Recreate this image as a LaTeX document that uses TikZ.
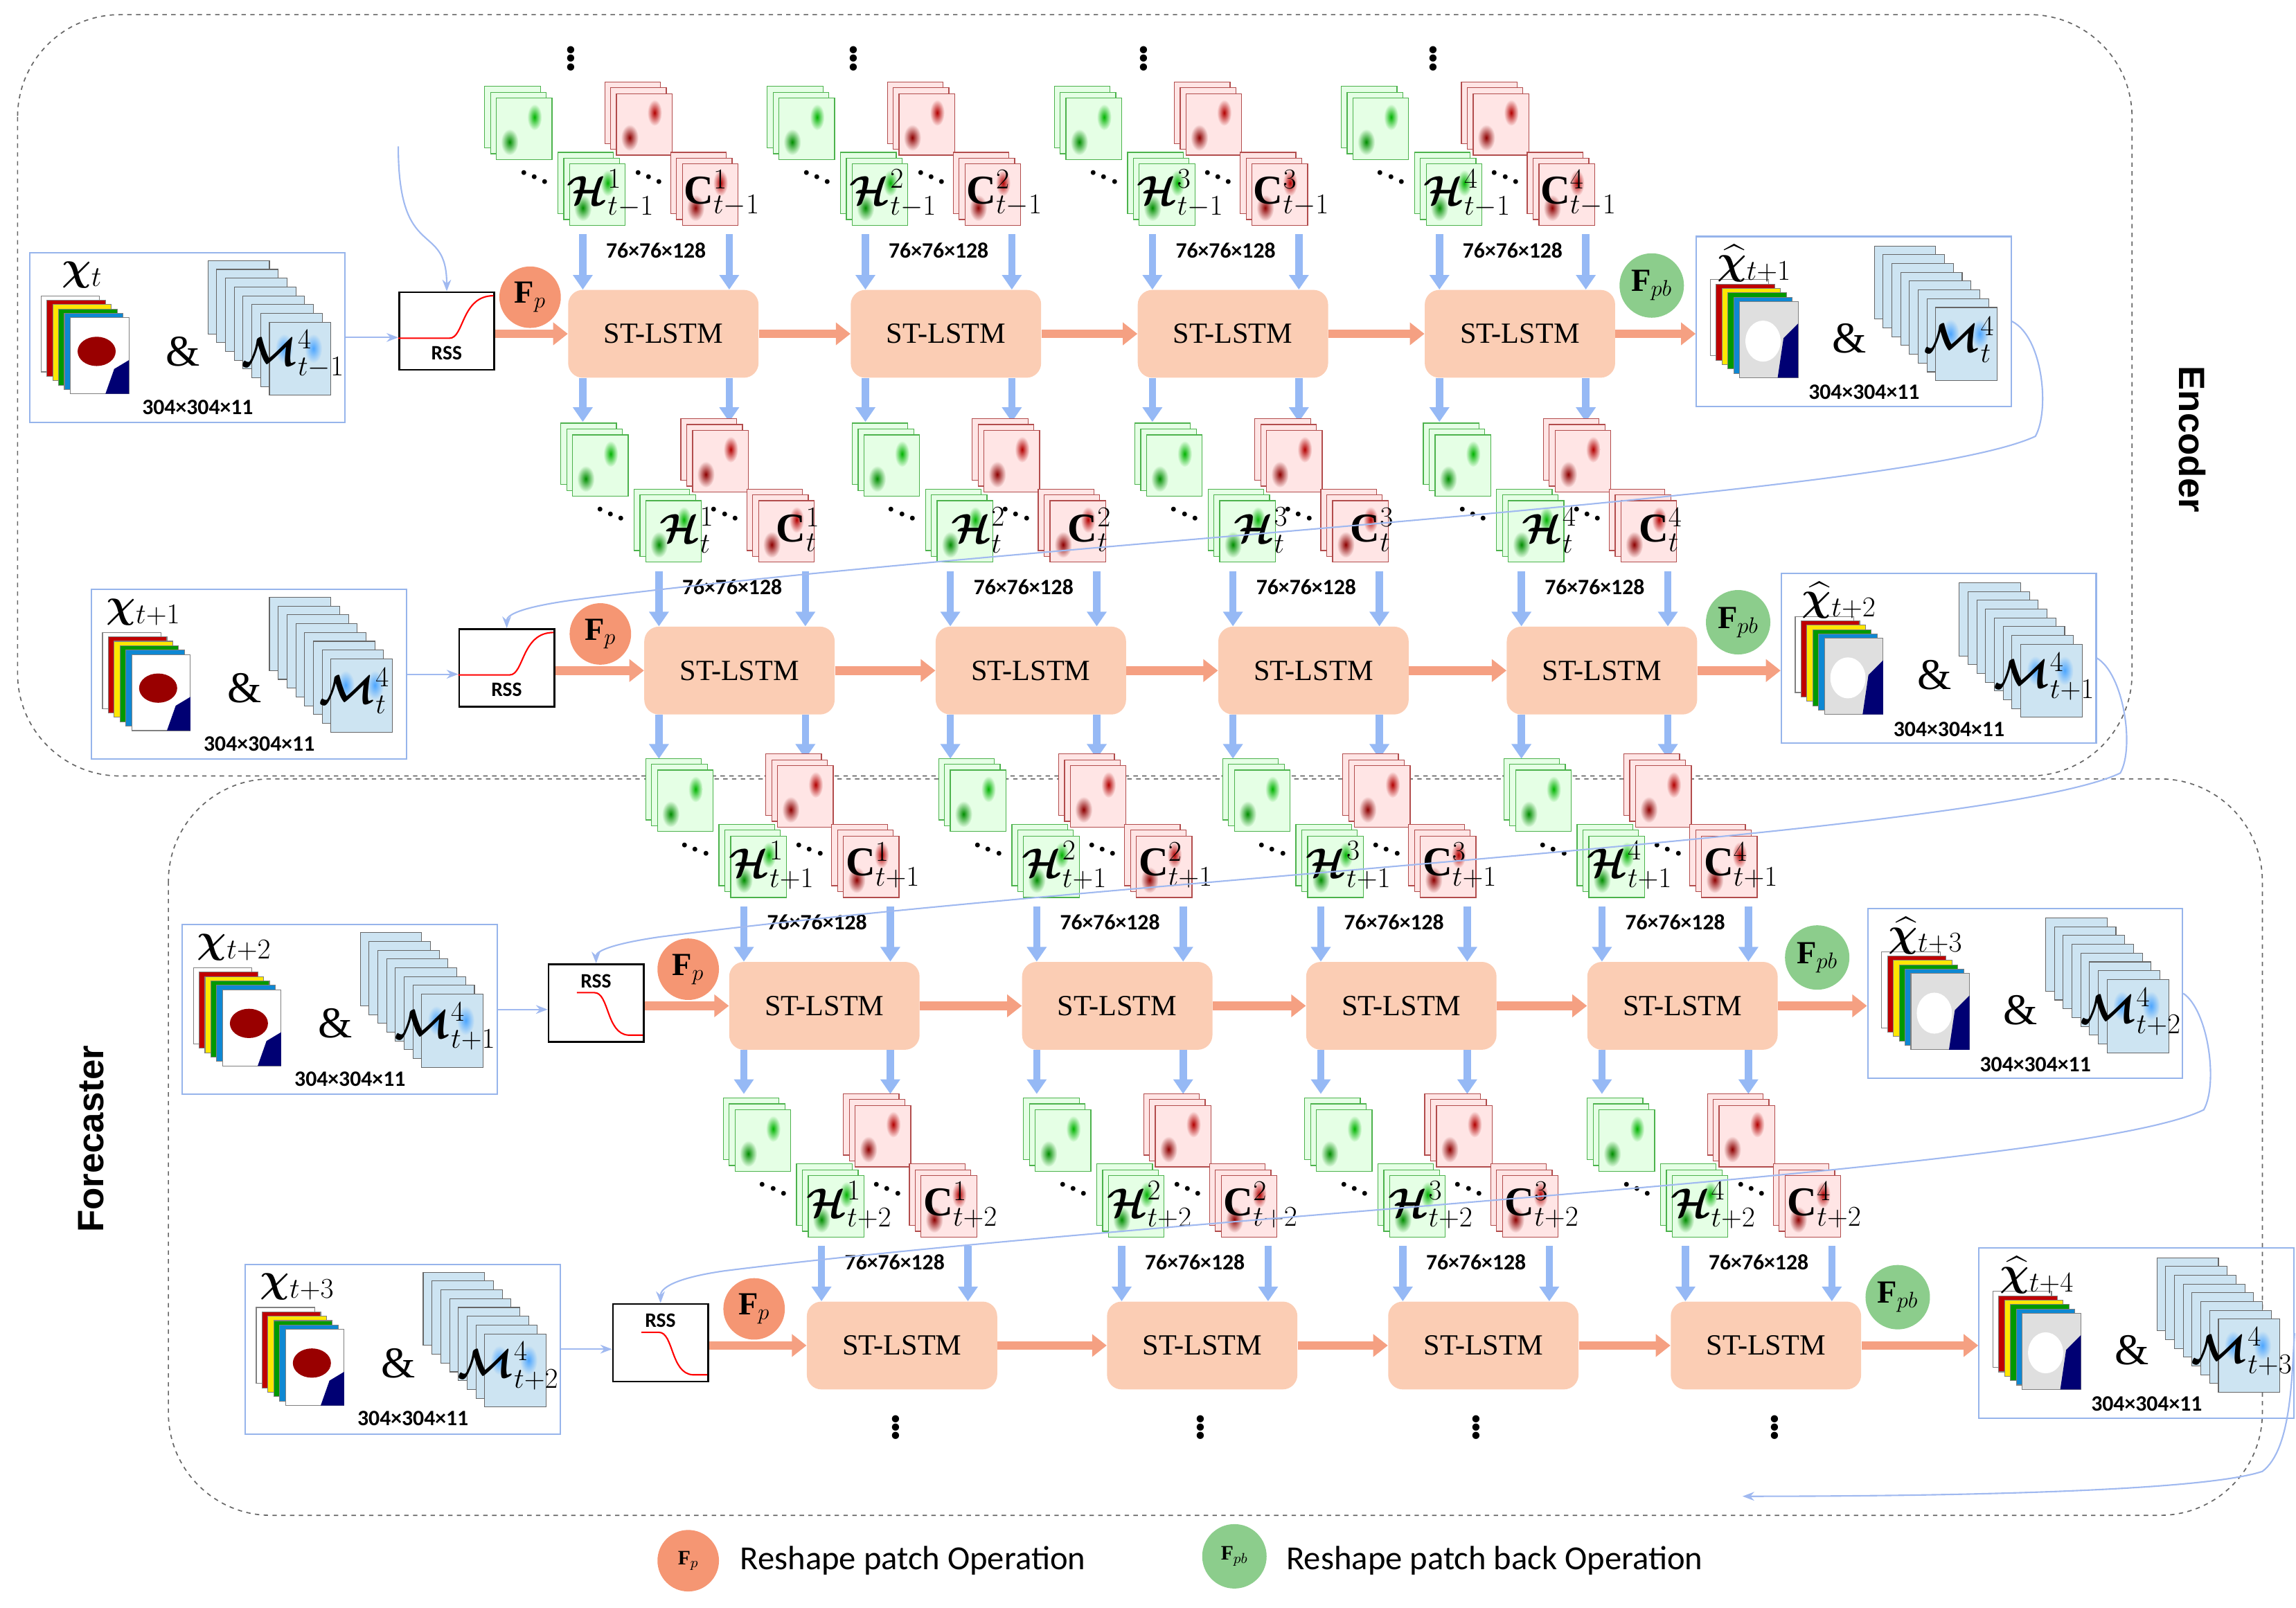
\RequirePackage{fix-cm}
\documentclass[tikz,border=0pt]{standalone}
\usepackage{amsmath,bm}
\usepackage{fontspec}
\setmainfont{Liberation Serif}
\newfontfamily\calibri{Carlito}
\newfontfamily\arialf{Liberation Sans}
\usetikzlibrary{arrows.meta,shapes.geometric}
\definecolor{lstmc}{RGB}{251,205,180}
\definecolor{barc}{RGB}{150,185,245}
\definecolor{oac}{RGB}{245,160,130}
\definecolor{fbc}{RGB}{160,185,240}
\definecolor{boxc}{RGB}{150,180,235}
\definecolor{fpc}{RGB}{245,150,115}
\definecolor{fpbc}{RGB}{140,205,140}
\definecolor{mc}{RGB}{205,228,242}
\tikzset{
 lstm/.style={fill=lstmc, rounded corners=10pt, minimum width=130pt, minimum height=60pt, font=\fontsize{20}{24}\selectfont},
 barr/.style={draw=barc, line width=5pt, -{Triangle[width=13pt,length=10pt]}},
 oarr/.style={draw=oac, line width=6pt, -{Triangle[width=15pt,length=10pt]}},
 fb/.style={draw=fbc, line width=1pt, -{Stealth[length=8pt]}},
 dim/.style={font=\calibri\bfseries\fontsize{15}{17}\selectfont},
 lab/.style={font=\fontsize{28}{30}\selectfont, inner sep=0pt},
 dots/.style={font=\bfseries\fontsize{30}{32}\selectfont},
 ddots/.style={font=\bfseries\fontsize{20}{22}\selectfont, inner sep=0pt},
 fp/.style={circle, fill=fpc, minimum size=42pt, inner sep=0pt, font=\fontsize{22}{24}\selectfont},
 fpb/.style={circle, fill=fpbc, minimum size=44pt, inner sep=0pt, font=\fontsize{22}{24}\selectfont},
 iobox/.style={draw=boxc, line width=1pt, minimum width=215pt, minimum height=116pt, anchor=north west, inner sep=0pt},
 rss/.style={draw=black, line width=1.2pt, minimum width=65pt, minimum height=53pt, anchor=north west, inner sep=0pt},
}
\newcommand{\stk}[3]{%
 \foreach \k in {2,1,0}{\filldraw[fill=#3!10, draw=#3!40!gray, line width=0.6pt] ({#1-19-4*\k},{#2-21-4*\k}) rectangle ++(38,42);}
 \shade[inner color=#3!70!black, outer color=#3!10] ({#1+7},{#2-8}) ellipse (5 and 9);
 \shade[inner color=#3!55!black, outer color=#3!10] ({#1-10},{#2+9}) ellipse (6 and 9);
}
\newcommand{\mapstk}[3]{%
 \foreach \k/\col in {0/white,1/red!75!black,2/yellow!90!orange,3/green!60!black,4/cyan!70!blue}{\filldraw[fill=\col, draw=gray, line width=0.5pt] ({#1+4*\k},{#2+3*\k}) rectangle ++(40,52);}
 \ifnum#3=0
  \filldraw[fill=white, draw=gray, line width=0.5pt] ({#1+20},{#2+15}) rectangle ++(40,52);
  \fill[red!60!black] ({#1+38},{#2+38}) ellipse (13 and 10);
  \fill[blue!45!black] ({#1+50},{#2+50}) -- ({#1+60},{#2+44}) -- ({#1+60},{#2+67}) -- ({#1+44},{#2+67}) -- cycle;
 \else
  \filldraw[fill=gray!25, draw=gray, line width=0.5pt] ({#1+20},{#2+15}) rectangle ++(40,52);
  \fill[white] ({#1+36},{#2+42}) ellipse (12 and 14);
  \fill[blue!45!black] ({#1+50},{#2+40}) -- ({#1+60},{#2+30}) -- ({#1+60},{#2+67}) -- ({#1+46},{#2+67}) -- cycle;
 \fi
}
\newcommand{\mstk}[2]{%
 \foreach \k in {0,...,7}{\filldraw[fill=mc, draw=gray!80!black, line width=0.5pt] ({#1+6*\k},{#2+6*\k}) rectangle ++(42,50);}
 \shade[inner color=cyan!50!blue!70, outer color=mc] ({#1+52},{#2+60}) ellipse (6 and 10);
 \shade[inner color=cyan!50!blue!70, outer color=mc] ({#1+72},{#2+60}) ellipse (6 and 10);
}
\begin{document}
\begin{tikzpicture}[x=1pt,y=-1pt]
\useasboundingbox (0,0) rectangle (1568,1098);
\draw[dashed, gray!80!black, line width=0.8pt, rounded corners=70pt] (12,10) rectangle (1456,530);
\draw[dashed, gray!80!black, line width=0.8pt, rounded corners=70pt] (115,532) rectangle (1545,1035);
\node[rotate=-90, font=\arialf\bfseries\fontsize{25}{28}\selectfont] (enc) at (1497,300) {Encoder};
\node[rotate=90, font=\arialf\bfseries\fontsize{25}{28}\selectfont] (fc) at (62,778) {Forecaster};

\foreach \r/\y/\ca/\cb/\cc/\cd/\inx/\rs/\fpx/\fpbx/\outx/\xs/\mi/\xh/\mo/\hs/\up in {
1/228/453/646/842/1038/20/272/362/1128/1158/t/{t-1}/{t+1}/t/{t-1}/1,
2/458/505/704/897/1094/62/313/410/1187/1216/{t+1}/t/{t+2}/{t+1}/t/1,
3/687/563/763/957/1149/124/374/470/1241/1275/{t+2}/{t+1}/{t+3}/{t+2}/{t+1}/0,
4/919/616/821/1013/1206/167/418/515/1296/1351/{t+3}/{t+2}/{t+4}/{t+3}/{t+2}/0}{
 \foreach \cx [count=\i] in {\ca,\cb,\cc,\cd}{
  \node[lstm] (L\r\i) at (\cx,\y) {ST-LSTM};
  \stk{\cx-95}{\y-140}{green}
  \stk{\cx-45}{\y-95}{green}
  \stk{\cx-13}{\y-143}{red}
  \stk{\cx+32}{\y-95}{red}
  \node[ddots] (da\r\i) at (\cx-88,\y-110) {$\ddots$};
  \node[ddots] (db\r\i) at (\cx-10,\y-110) {$\ddots$};
  \node[lab] (h\r\i) at (\cx-36,\y-96) {$\bm{\mathcal{H}}^{\i}_{\hs}$};
  \node[lab] (c\r\i) at (\cx+40,\y-96) {$\mathbf{C}^{\i}_{\hs}$};
  \node[dim] (s\r\i) at (\cx-5,\y-57) {76×76×128};
  \coordinate (a\r\i) at (\cx-55,\y-68);
  \coordinate (b\r\i) at (\cx+45,\y-68);
  \draw[barr] (a\r\i) -- (a\r\i |- L\r\i.north);
  \draw[barr] (b\r\i) -- (b\r\i |- L\r\i.north);
  \ifnum\r<4
   \draw[barr] ([xshift=-55pt]L\r\i.south) -- ++(0,30);
   \draw[barr] ([xshift=45pt]L\r\i.south) -- ++(0,30);
  \fi
 }
 \foreach \i/\j in {1/2,2/3,3/4}{\draw[oarr] (L\r\i.east) -- (L\r\j.west);}
 \node[iobox] (I\r) at (\inx,\y-56) {};
 \mapstk{\inx+8}{\y-26}{0}
 \node[lab] (x\r) at (\inx+36,\y-40) {$\bm{\chi}_{\xs}$};
 \node[font=\fontsize{30}{32}\selectfont] (amp\r) at (\inx+105,\y+12) {\&};
 \mstk{\inx+122}{\y-50}
 \node[lab] (m\r) at (\inx+180,\y+14) {$\bm{\mathcal{M}}^{4}_{\mi}$};
 \node[dim] (z\r) at (\inx+115,\y+50) {304×304×11};
 \node[rss] (R\r) at (\rs,\y-29) {};
 \ifnum\up=1
  \node[font=\calibri\bfseries\fontsize{14}{16}\selectfont] (rt\r) at (\rs+33,\y+13) {RSS};
  \draw[red, line width=1pt] (\rs,\y+3) -- (\rs+35,\y+3) .. controls (\rs+45,\y+3) and (\rs+43,\y-26) .. (\rs+65,\y-26);
 \else
  \node[font=\calibri\bfseries\fontsize{14}{16}\selectfont] (rt\r) at (\rs+33,\y-17) {RSS};
  \draw[red, line width=1pt] (\rs+20,\y-9) -- (\rs+32,\y-9) .. controls (\rs+42,\y-9) and (\rs+40,\y+19) .. (\rs+55,\y+20) -- (\rs+65,\y+20);
 \fi
 \draw[fb] (I\r.east) -- (R\r.west |- I\r.east);
 \draw[oarr] (R\r.east |- L\r1) -- (L\r1.west);
 \node[fp] (P\r) at (\fpx,\y-25) {$\mathbf{F}_{p}$};
 \node[iobox] (O\r) at (\outx,\y-67) {};
 \mapstk{\outx+10}{\y-37}{1}
 \node[lab] (y\r) at (\outx+40,\y-48) {$\widehat{\bm{\chi}}_{\xh}$};
 \node[font=\fontsize{30}{32}\selectfont] (amq\r) at (\outx+105,\y+3) {\&};
 \mstk{\outx+122}{\y-60}
 \node[lab] (n\r) at (\outx+180,\y+4) {$\bm{\mathcal{M}}^{4}_{\mo}$};
 \node[dim] (w\r) at (\outx+115,\y+40) {304×304×11};
 \node[fpb] (B\r) at (\fpbx,\y-33) {$\mathbf{F}_{pb}$};
 \draw[oarr] (L\r4.east) -- (O\r.west |- L\r4);
}
\foreach \x [count=\i] in {390,583,781,979}{\node[dots] (tv\i) at (\x,37) {$\vdots$};}
\foreach \x [count=\i] in {612,820,1008,1212}{\node[dots] (bv\i) at (\x,972) {$\vdots$};}
\coordinate (st) at (272,100);
\draw[fb] (st) .. controls (272,180) and (305,150) .. (R1.north);
\draw[fb] (O1.east) .. controls (1395,230) and (1400,280) .. (1390,298) .. controls (1300,340) and (700,370) .. (390,410) .. controls (355,415) and (346,420) .. (R2.north);
\draw[fb] (O2.east) .. controls (1450,460) and (1458,510) .. (1448,528) .. controls (1360,570) and (760,600) .. (450,640) .. controls (416,645) and (407,650) .. (R3.north);
\draw[fb] (O3.east) .. controls (1508,690) and (1515,740) .. (1505,758) .. controls (1420,800) and (800,830) .. (495,868) .. controls (460,873) and (451,880) .. (R4.north);
\coordinate (en) at (1190,1022);
\draw[fb] (O4.east) .. controls (1565,940) and (1565,990) .. (1545,1005) .. controls (1500,1020) and (1300,1022) .. (en);
\node[fp] (LP) at (470,1066) {\fontsize{14}{15}\selectfont$\mathbf{F}_{p}$};
\node[anchor=west, font=\calibri\fontsize{23}{25}\selectfont] (LPt) at (502,1066) {Reshape patch Operation};
\node[fpb] (LB) at (843,1063) {\fontsize{14}{15}\selectfont$\mathbf{F}_{pb}$};
\node[anchor=west, font=\calibri\fontsize{23}{25}\selectfont] (LBt) at (875,1066) {Reshape patch back Operation};
\end{tikzpicture}
\end{document}
